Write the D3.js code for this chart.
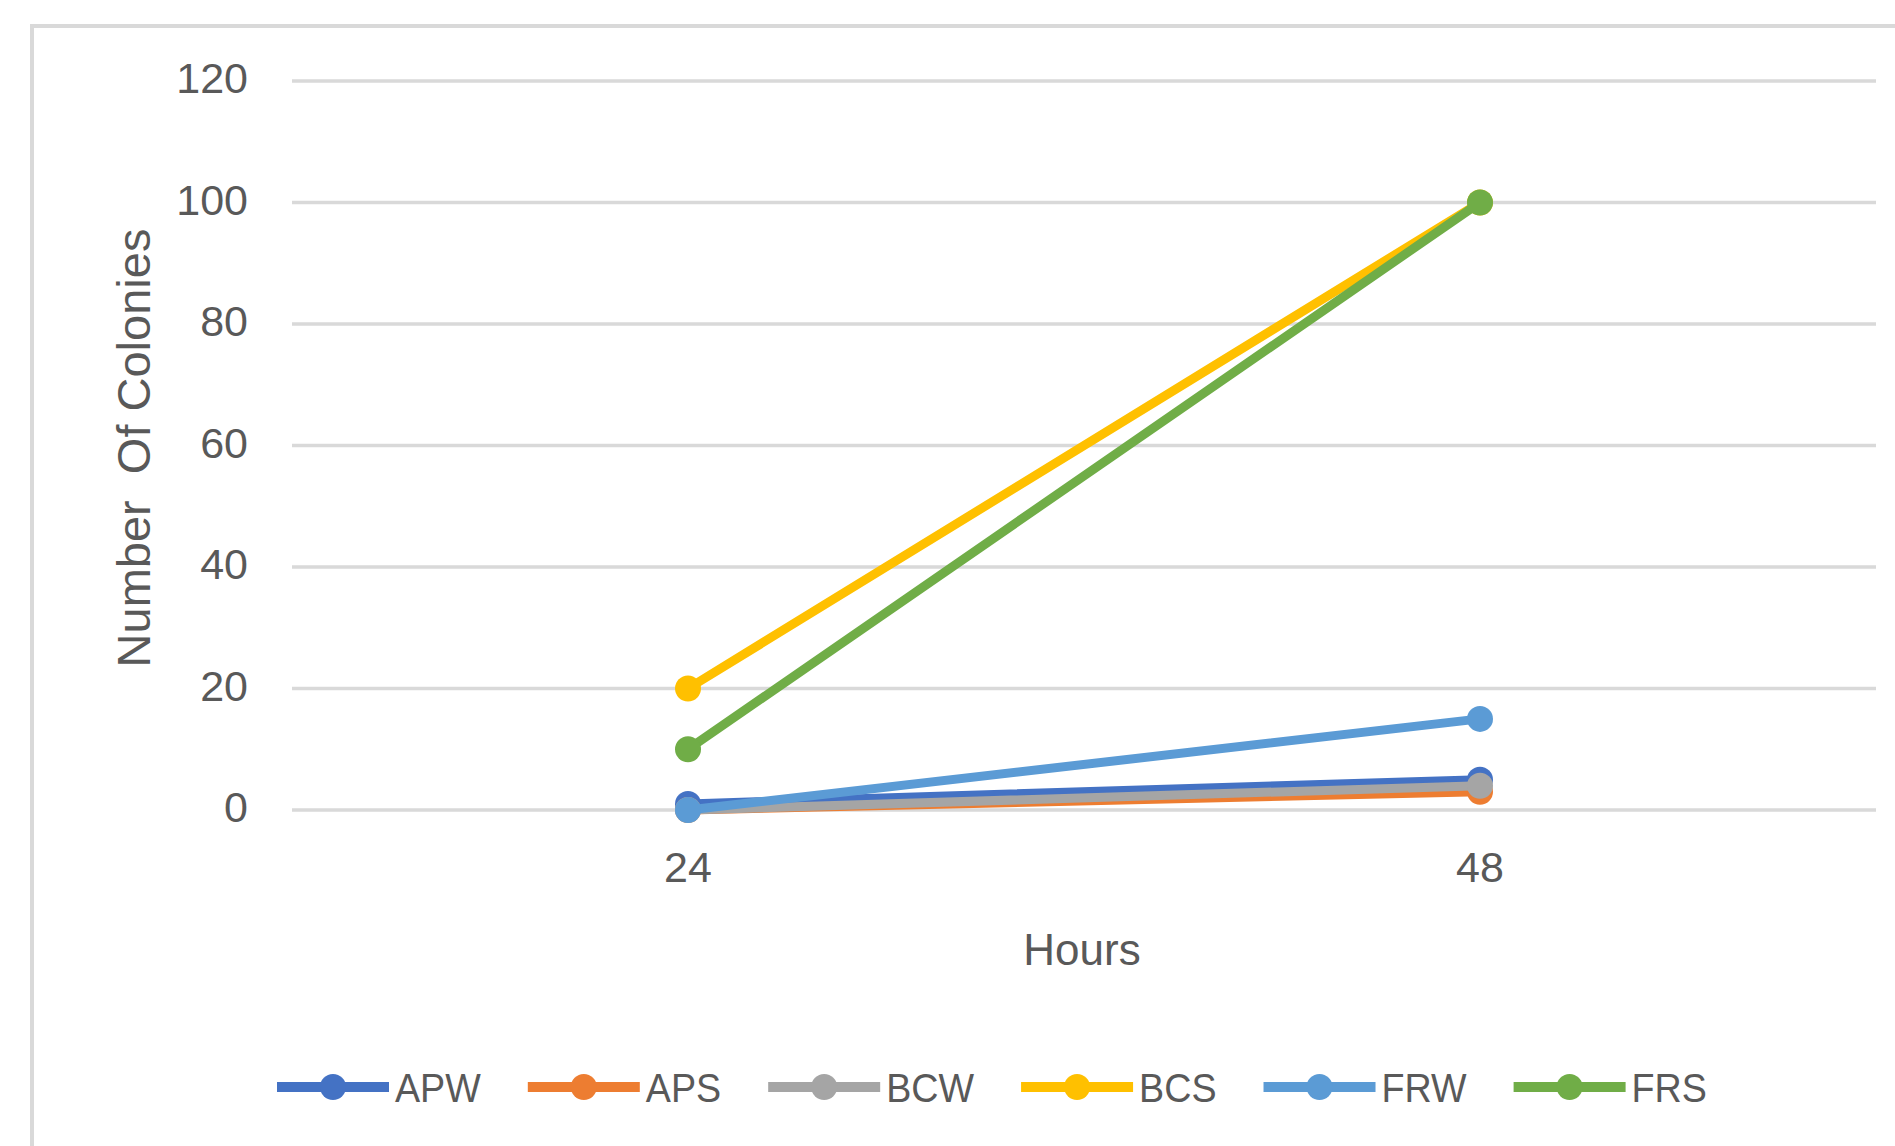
<!DOCTYPE html>
<html>
<head>
<meta charset="utf-8">
<script src="https://cdn.jsdelivr.net/npm/d3@7"></script>
<style>
  html, body { margin: 0; padding: 0; background: #fff; }
  svg { display: block; }
  text { font-family: "Liberation Sans", Arial, sans-serif; fill: #595959; }
</style>
</head>
<body>
<svg id="chart" width="1895" height="1146"></svg>
<script>
// ---- data ----
const categories = ["24", "48"];
const seriesNames = ["APW", "APS", "BCW", "BCS", "FRW", "FRS"];
const APW = [1, 5];
const APS = [0, 3];
const BCW = [0, 4];
const BCS = [20, 100];
const FRW = [0, 15];
const FRS = [10, 100];
const yTicks = [0, 20, 40, 60, 80, 100, 120];
const colors = ["#4472C4", "#ED7D31", "#A5A5A5", "#FFC000", "#5B9BD5", "#70AD47"];
const xTitle = "Hours";
const yTitle = "Number  Of Colonies";

const seriesValues = [APW, APS, BCW, BCS, FRW, FRS];
const series = seriesNames.map((n, i) => ({ name: n, values: seriesValues[i], color: colors[i] }));

const svg = d3.select("#chart");
const W = 1895, H = 1146;

// chart area border (cropped at right/bottom)
svg.append("line").attr("x1", 32).attr("x2", 32).attr("y1", 24).attr("y2", H)
  .attr("stroke", "#d9d9d9").attr("stroke-width", 4);
svg.append("line").attr("x1", 30).attr("x2", W).attr("y1", 26).attr("y2", 26)
  .attr("stroke", "#d9d9d9").attr("stroke-width", 4);

const plot = { left: 292, right: 1876, top: 81, bottom: 810 };

const x = d3.scaleBand().domain(categories).range([plot.left, plot.right]);
const y = d3.scaleLinear().domain([0, 120]).range([plot.bottom, plot.top]);

// gridlines
svg.append("g").selectAll("line").data(yTicks).join("line")
  .attr("x1", plot.left).attr("x2", plot.right)
  .attr("y1", d => y(d)).attr("y2", d => y(d))
  .attr("stroke", "#d9d9d9").attr("stroke-width", 3.5);

// y tick labels
const fs = 43;
svg.append("g").selectAll("text").data(yTicks).join("text")
  .attr("x", 248).attr("y", d => y(d)).attr("dy", "0.28em")
  .attr("text-anchor", "end").attr("font-size", fs)
  .text(d => d);

// x tick labels
svg.append("g").selectAll("text").data(categories).join("text")
  .attr("x", d => x(d) + x.bandwidth() / 2).attr("y", 882)
  .attr("text-anchor", "middle").attr("font-size", fs)
  .text(d => d);

// axis titles
svg.append("text").attr("x", 1082).attr("y", 965).attr("text-anchor", "middle")
  .attr("font-size", 44).text(xTitle);
svg.append("text").attr("transform", "translate(150,448) rotate(-90)")
  .attr("text-anchor", "middle").attr("font-size", 47)
  .style("white-space", "pre").text(yTitle);

// lines + markers
const line = d3.line().x((d, i) => x(categories[i]) + x.bandwidth() / 2).y(d => y(d));
const lw = 9, mr = 13;
series.forEach(s => {
  const g = svg.append("g");
  g.append("path").datum(s.values).attr("d", line)
    .attr("fill", "none").attr("stroke", s.color).attr("stroke-width", lw)
    .attr("stroke-linecap", "round");
  g.selectAll("circle").data(s.values).join("circle")
    .attr("cx", (d, i) => x(categories[i]) + x.bandwidth() / 2)
    .attr("cy", d => y(d)).attr("r", mr).attr("fill", s.color);
});

// legend
const legY = 1087;
let lx = 277;
const lineLen = 112;
series.forEach(s => {
  const g = svg.append("g");
  g.append("line").attr("x1", lx).attr("x2", lx + lineLen).attr("y1", legY).attr("y2", legY)
    .attr("stroke", s.color).attr("stroke-width", 10);
  g.append("circle").attr("cx", lx + lineLen / 2).attr("cy", legY).attr("r", mr).attr("fill", s.color);
  const t = g.append("text").attr("x", lx + lineLen + 6).attr("y", legY).attr("dy", "0.36em")
    .attr("font-size", 40.5).text(s.name);
  const tw = t.node().getComputedTextLength() * 0.93;
  t.attr("textLength", tw).attr("lengthAdjust", "spacingAndGlyphs");
  lx += lineLen + 6 + tw + 47;
});
</script>
</body>
</html>
